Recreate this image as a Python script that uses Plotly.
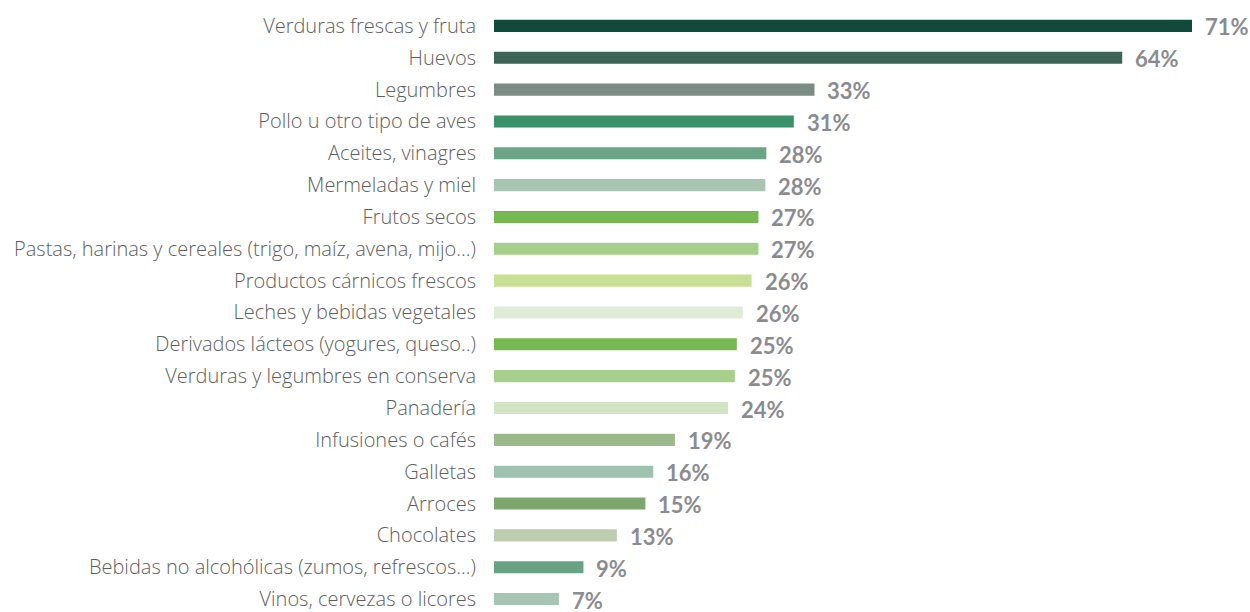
import plotly.graph_objects as go

categories = [
    "Verduras frescas y fruta",
    "Huevos",
    "Legumbres",
    "Pollo u otro tipo de aves",
    "Aceites, vinagres",
    "Mermeladas y miel",
    "Frutos secos",
    "Pastas, harinas y cereales (trigo, maíz, avena, mijo...)",
    "Productos cárnicos frescos",
    "Leches y bebidas vegetales",
    "Derivados lácteos (yogures, queso..)",
    "Verduras y legumbres en conserva",
    "Panadería",
    "Infusiones o cafés",
    "Galletas",
    "Arroces",
    "Chocolates",
    "Bebidas no alcohólicas (zumos, refrescos...)",
    "Vinos, cervezas o licores",
]

values = [71.0, 63.9, 32.6, 30.5, 27.7, 27.6, 26.9, 26.9, 26.2, 25.3,
          24.7, 24.5, 23.8, 18.4, 16.2, 15.4, 12.5, 9.1, 6.6]

value_labels = ["71%", "64%", "33%", "31%", "28%", "28%", "27%", "27%", "26%", "26%",
                "25%", "25%", "24%", "19%", "16%", "15%", "13%", "9%", "7%"]

colors = ["#0f4a3a", "#3d6356", "#7a8c84", "#3a916a", "#6ba588", "#a8c5b3",
          "#76b852", "#a7cf8c", "#c8df94", "#deebd6", "#76b852", "#a7d08c",
          "#d0e4c4", "#9ab88a", "#9fc2b0", "#7ea66f", "#bccdb0", "#68a282",
          "#a8c5b3"]

fig = go.Figure(
    go.Bar(
        x=values,
        y=categories,
        orientation="h",
        marker=dict(color=colors, line=dict(width=0)),
        hoverinfo="skip",
    )
)

for v, c, t in zip(values, categories, value_labels):
    fig.add_annotation(
        x=v, y=c, text=t, showarrow=False, xanchor="left", yanchor="middle",
        xshift=11, yshift=-1,
        font=dict(family="Lato", size=22, color="#8b8b8f", weight="bold"),
    )

fig.update_layout(
    width=1250, height=612,
    margin=dict(l=494, r=0, t=10, b=0),
    paper_bgcolor="white", plot_bgcolor="white",
    bargap=0.62,
    showlegend=False,
    xaxis=dict(range=[0, 76.9], visible=False, fixedrange=True),
    yaxis=dict(
        type="category",
        range=[18.25, -0.5],
        showgrid=False, zeroline=False, showline=False, fixedrange=True,
        ticks="", ticklabelstandoff=17,
        tickfont=dict(family="Open Sans", size=20, color="#5e5e5e", weight=300),
    ),
)

fig.write_html(
    "out.html",
    config={"displayModeBar": False, "staticPlot": True},
    post_script="document.body.style.margin='0px';document.body.style.overflow='hidden';",
)
